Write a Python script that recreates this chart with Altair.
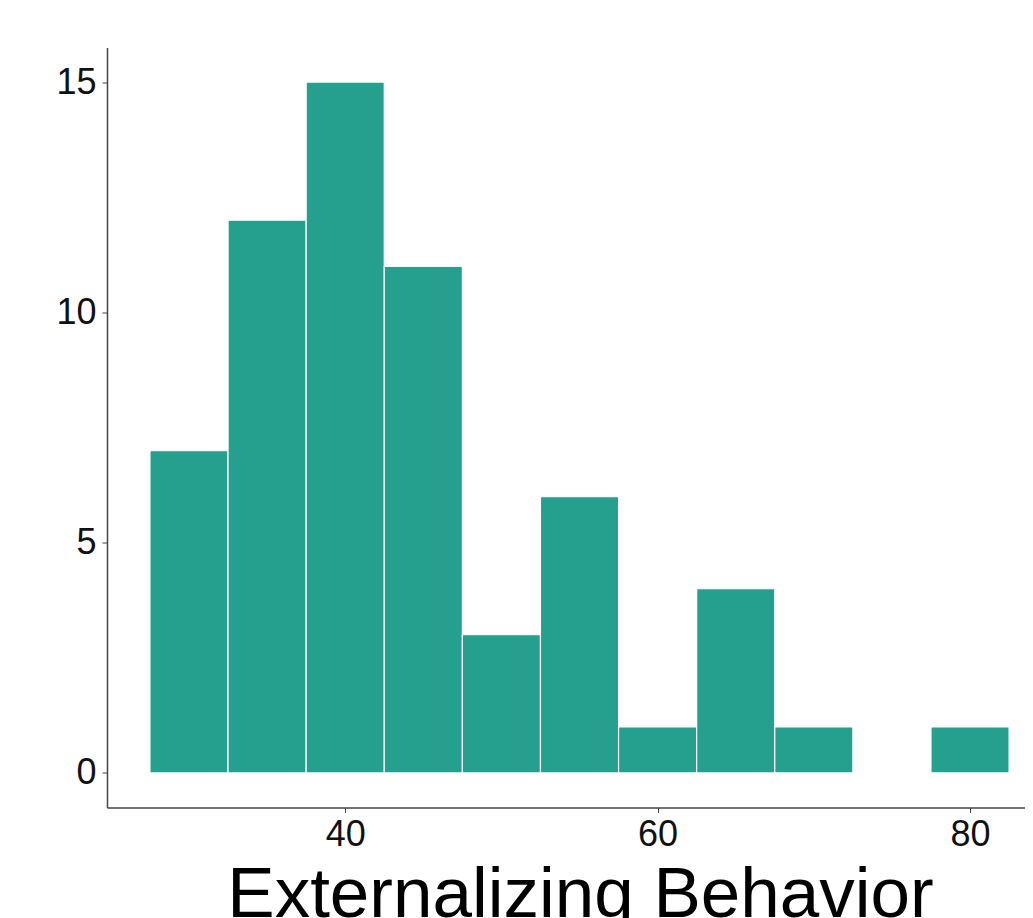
import altair as alt
import pandas as pd

bin_start = [27.5, 32.5, 37.5, 42.5, 47.5, 52.5, 57.5, 62.5, 67.5, 72.5, 77.5]
bin_end = [32.5, 37.5, 42.5, 47.5, 52.5, 57.5, 62.5, 67.5, 72.5, 77.5, 82.5]
counts = [7, 12, 15, 11, 3, 6, 1, 4, 1, 0, 1]

df = pd.DataFrame({"start": bin_start, "end": bin_end, "count": counts})

FONT = "Liberation Sans"

chart = alt.Chart(df).mark_rect(color="#25A08E", stroke="white", strokeWidth=1.2).encode(
    x=alt.X("start:Q",
            scale=alt.Scale(domain=[24.75, 83.52], nice=False, zero=False),
            axis=alt.Axis(title="Externalizing Behavior", values=[40, 60, 80], grid=False,
                          labelFontSize=36, labelFont=FONT, labelColor="#111",
                          titleFontSize=71, titleFont=FONT, titleFontWeight="normal",
                          titleColor="#000", titlePadding=8, titleX=473, titleAlign="center",
                          domainColor="#444", domainWidth=1.5,
                          tickColor="#444", tickSize=5, labelPadding=5)),
    x2="end:Q",
    y=alt.Y("count:Q",
            scale=alt.Scale(domain=[-0.75, 15.75], nice=False, zero=False),
            axis=alt.Axis(title=None, values=[0, 5, 10, 15], grid=False,
                          labelFontSize=36, labelFont=FONT, labelColor="#111",
                          domainColor="#444", domainWidth=1.5,
                          tickColor="#444", tickSize=5, labelPadding=6)),
    y2=alt.datum(0),
).properties(
    width=918, height=760,
    autosize=alt.AutoSizeParams(type="none"),
    padding={"left": 99, "top": 39.5, "right": 0, "bottom": 110},
).configure(background="white").configure_view(stroke=None, strokeWidth=0)

chart.save("out.html", embed_options={"renderer": "svg", "actions": False})
